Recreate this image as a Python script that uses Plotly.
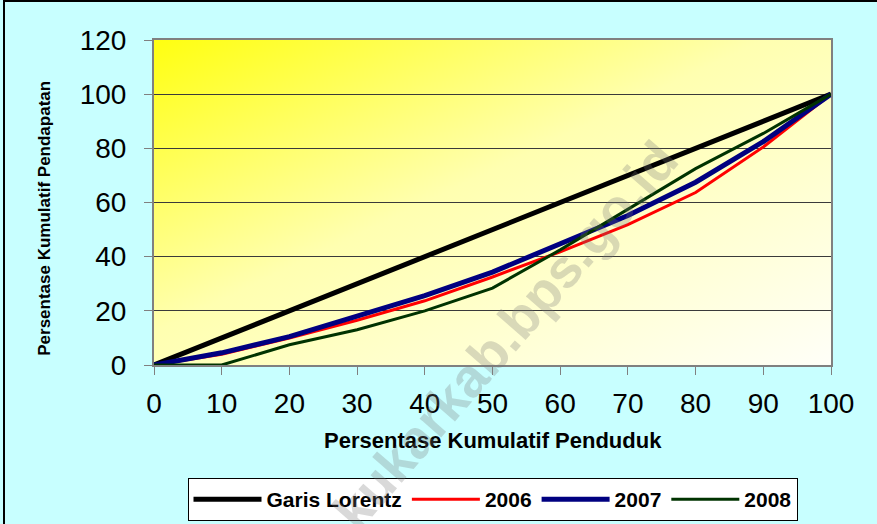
import base64
import plotly.graph_objects as go

# ---- data ----
pct_penduduk = [0, 10, 20, 30, 40, 50, 60, 70, 80, 90, 100]
garis_lorentz = [0, 10, 20, 30, 40, 50, 60, 70, 80, 90, 100]
y2006 = [0, 4, 10, 16.5, 23.7, 32.5, 41.8, 51.8, 63.7, 80.5, 100]
y2007 = [0, 4.5, 10.5, 18, 25.6, 34.3, 44.6, 55.2, 67.5, 82.5, 100]
y2008 = [0, 0, 7.5, 13, 20, 28.4, 42.5, 57.6, 72.5, 85.5, 100]
series_names = ["Garis Lorentz", "2006", "2007", "2008"]
y_ticks = [0, 20, 40, 60, 80, 100, 120]
x_ticks = [0, 10, 20, 30, 40, 50, 60, 70, 80, 90, 100]

FONT = "Arial, 'Liberation Sans', sans-serif"

fig = go.Figure()
styles = [("#000000", 5), ("#FF0000", 3), ("#000080", 5), ("#003300", 3)]
for name, ys, (col, w) in zip(series_names, [garis_lorentz, y2006, y2007, y2008], styles):
    fig.add_trace(go.Scatter(x=pct_penduduk, y=ys, mode="lines", name=name,
                             line=dict(color=col, width=w)))

# gradient background for plot area
svg = ('<svg xmlns="http://www.w3.org/2000/svg" width="100" height="100" preserveAspectRatio="none">'
       '<defs><linearGradient id="g" x1="0" y1="0" x2="1" y2="1">'
       '<stop offset="0" stop-color="#FFFF10"/>'
       '<stop offset="0.45" stop-color="#FFFFB0"/>'
       '<stop offset="1" stop-color="#FFFFF8"/>'
       '</linearGradient></defs><rect width="100" height="100" fill="url(#g)"/></svg>')
src = "data:image/svg+xml;base64," + base64.b64encode(svg.encode()).decode()

fig.update_layout(
    width=877, height=524,
    margin=dict(l=154, r=46, t=40, b=159, autoexpand=False),
    paper_bgcolor="#C8FFFF",
    plot_bgcolor="rgba(0,0,0,0)",
    font=dict(family=FONT, color="black"),
    showlegend=True,
    legend=dict(orientation="h", x=0.5, xanchor="center", y=(365 - 478) / 325, yanchor="top",
                bgcolor="white", bordercolor="black", borderwidth=1,
                font=dict(size=21, family=FONT, weight="bold"),
                itemwidth=68, tracegroupgap=0),
    images=[dict(source=src, xref="paper", yref="paper", x=0, y=1, sizex=1, sizey=1,
                 xanchor="left", yanchor="top", sizing="stretch", layer="below")],
    xaxis=dict(range=[0, 100], tickvals=x_ticks, ticktext=[str(v) for v in x_ticks],
               showgrid=False, zeroline=False, showline=True, mirror=True,
               linecolor="#808080", linewidth=2, ticks="outside", ticklen=8,
               tickcolor="#808080", tickfont=dict(size=28, family=FONT),
               ticklabelstandoff=4, automargin=False),
    yaxis=dict(range=[0, 120], tickvals=y_ticks, ticktext=[str(v) for v in y_ticks],
               showgrid=True, gridcolor="#3a3a3a", gridwidth=1, zeroline=False,
               showline=True, mirror=True, linecolor="#808080", linewidth=2,
               ticks="outside", ticklen=8, tickcolor="#808080",
               tickfont=dict(size=28, family=FONT), ticklabelstandoff=12,
               automargin=False),
    annotations=[
        dict(text="Persentase Kumulatif Penduduk", xref="paper", yref="paper",
             x=0.5, y=-0.231, showarrow=False, xanchor="center", yanchor="middle",
             font=dict(size=22, family=FONT, weight="bold")),
        dict(text="Persentase Kumulatif Pendapatan", xref="paper", yref="paper",
             x=-0.163, y=0.452, showarrow=False, textangle=-90,
             xanchor="center", yanchor="middle",
             font=dict(size=17, family=FONT, weight="bold")),
        dict(text="kukarkab.bps.go.id", xref="paper", yref="paper",
             x=(505 - 154) / 677, y=(365 - 335) / 325, showarrow=False, textangle=-49,
             xanchor="center", yanchor="middle",
             font=dict(size=54, family=FONT, weight="bold", color="rgba(120,120,120,0.28)")),
    ],
    shapes=[
        dict(type="line", xref="paper", yref="paper", x0=(3 - 154) / 677, x1=(877 - 154) / 677,
             y0=(365 - 1) / 325, y1=(365 - 1) / 325, line=dict(color="black", width=2)),
        dict(type="line", xref="paper", yref="paper", x0=(4 - 154) / 677, x1=(4 - 154) / 677,
             y0=(365 - 0) / 325, y1=(365 - 524) / 325, line=dict(color="black", width=2)),
    ],
)

fig.write_html("out.html", config={"displayModeBar": False},
               post_script="document.body.style.margin='0px';")
